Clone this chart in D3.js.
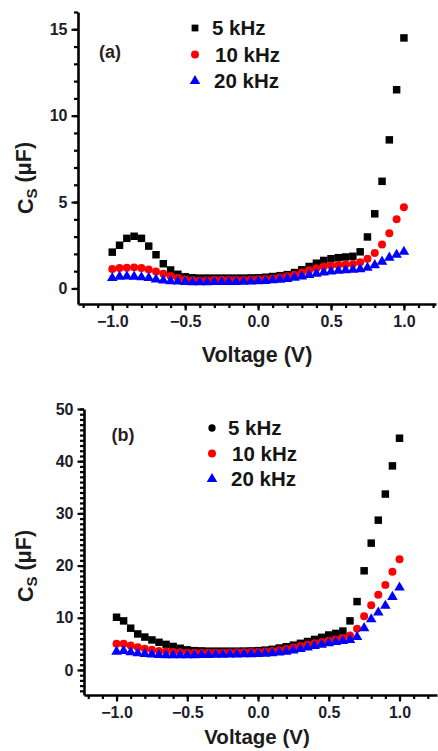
<!DOCTYPE html>
<html><head><meta charset="utf-8">
<script src="https://cdn.jsdelivr.net/npm/d3@7"></script>
<style>
html,body{margin:0;padding:0;background:#fff;}
svg{display:block;font-family:"Liberation Sans",Arial,Helvetica,sans-serif;font-weight:bold;}
</style></head>
<body>
<svg id="chart" width="438" height="751"></svg>
<script>
// ---- data ----
const voltage = [-1.00,-0.95,-0.90,-0.85,-0.80,-0.75,-0.70,-0.65,-0.60,-0.55,-0.50,-0.45,-0.40,-0.35,-0.30,-0.25,-0.20,-0.15,-0.10,-0.05,
  0.00,0.05,0.10,0.15,0.20,0.25,0.30,0.35,0.40,0.45,0.50,0.55,0.60,0.65,0.70,0.75,0.80,0.85,0.90,0.95,1.00];
const seriesNames = ["5 kHz","10 kHz","20 kHz"];
// panel (a)
const a5k  = [2.1,2.5,2.9,3.02,2.9,2.45,1.95,1.43,1.07,0.82,0.68,0.62,0.6,0.6,0.6,0.6,0.6,0.6,0.6,0.61,
  0.62,0.65,0.69,0.74,0.8,0.92,1.08,1.27,1.46,1.62,1.72,1.78,1.82,1.86,2.12,2.98,4.32,6.2,8.6,11.5,14.5];
const a10k = [1.12,1.18,1.2,1.22,1.18,1.1,0.98,0.85,0.72,0.6,0.52,0.48,0.46,0.48,0.5,0.5,0.5,0.5,0.5,0.52,
  0.53,0.55,0.58,0.63,0.7,0.8,0.93,1.05,1.17,1.27,1.33,1.36,1.38,1.42,1.52,1.72,2.05,2.55,3.2,4.0,4.7];
const a20k = [0.6,0.68,0.7,0.68,0.65,0.6,0.52,0.46,0.42,0.4,0.38,0.36,0.36,0.36,0.37,0.37,0.38,0.38,0.39,0.4,
  0.42,0.44,0.47,0.5,0.55,0.62,0.7,0.78,0.86,0.93,0.98,1.02,1.05,1.08,1.12,1.2,1.35,1.55,1.78,1.95,2.12];
// panel (b)
const b5k  = [10.1,9.4,8.0,6.9,6.3,5.75,5.3,4.9,4.5,4.15,3.85,3.7,3.65,3.6,3.6,3.6,3.6,3.6,3.62,3.65,
  3.7,3.8,3.95,4.2,4.45,4.75,5.1,5.45,5.85,6.25,6.7,7.0,7.45,9.4,13.1,19.0,24.3,28.7,33.7,39.1,44.4];
const b10k = [5.0,5.0,4.7,4.35,4.05,3.85,3.65,3.55,3.45,3.38,3.32,3.3,3.3,3.3,3.3,3.32,3.35,3.37,3.4,3.42,
  3.45,3.55,3.65,3.8,4.0,4.3,4.6,4.85,5.1,5.35,5.6,5.85,6.1,6.6,7.9,10.3,12.4,14.4,16.3,18.8,21.2];
const b20k = [3.5,3.65,3.4,3.2,3.07,2.95,2.87,2.82,2.8,2.8,2.8,2.82,2.85,2.87,2.9,2.92,2.95,2.98,3.0,3.03,
  3.07,3.12,3.2,3.35,3.5,3.75,4.0,4.3,4.6,4.85,5.1,5.35,5.55,5.75,6.3,8.0,9.7,11.0,12.3,14.0,15.8];
const xTicks = [-1.0,-0.5,0.0,0.5,1.0];
const yTicksA = [0,5,10,15];
const yTicksB = [0,10,20,30,40,50];
const xTitle = "Voltage (V)";

const colors = ["#000000","#ff0000","#0000ff"];
const symbols = [d3.symbolSquare, d3.symbolCircle, d3.symbolTriangle];
const symSizes = [56, 50, 48];

const svg = d3.select("#chart");

function panel(cfg){
  const g = svg.append("g");
  const x = d3.scaleLinear().domain(cfg.xDomain).range(cfg.xRange);
  const y = d3.scaleLinear().domain(cfg.yDomain).range(cfg.yRange);
  const x0 = cfg.xRange[0], yb = cfg.yRange[0];

  // minor ticks
  const xMinor = d3.range(-12,13).map(d=>d/10).filter(d=>d>=cfg.xDomain[0]-1e-9 && d<=cfg.xDomain[1]+1e-9);
  const yMinor = d3.range(Math.ceil(cfg.yDomain[0]), Math.floor(cfg.yDomain[1])+1);
  g.append("g").attr("transform",`translate(0,${yb})`)
    .call(d3.axisBottom(x).tickValues(xMinor).tickSize(4).tickFormat(""))
    .call(s=>s.select(".domain").remove());
  g.append("g").attr("transform",`translate(${x0},0)`)
    .call(d3.axisLeft(y).tickValues(yMinor).tickSize(4).tickFormat(""))
    .call(s=>s.select(".domain").remove());
  // major
  const xa = g.append("g").attr("transform",`translate(0,${yb})`)
    .call(d3.axisBottom(x).tickValues(xTicks).tickSize(6.5).tickSizeOuter(0).tickPadding(5).tickFormat(d3.format(".1f")));
  const ya = g.append("g").attr("transform",`translate(${x0},0)`)
    .call(d3.axisLeft(y).tickValues(cfg.yTicks).tickSize(6.5).tickSizeOuter(0).tickPadding(4).tickFormat(d3.format("d")));
  [xa,ya].forEach(a=>{
    a.selectAll("text").attr("font-size",16).attr("font-weight","bold").attr("fill","#1c1c2c")
      .attr("font-family","'Liberation Sans',Arial,sans-serif");
  });
  g.selectAll(".tick line").attr("stroke","#000").attr("stroke-width",2.2);
  g.selectAll(".domain").attr("stroke","#000").attr("stroke-width",2.6);

  // data
  cfg.series.forEach((vals,i)=>{
    g.append("g").selectAll("path").data(vals).join("path")
      .attr("transform",(d,j)=>`translate(${x(voltage[j])},${y(d)})`)
      .attr("d",d3.symbol().type(symbols[i]).size(symSizes[i]))
      .attr("fill",colors[i]);
  });

  // legend
  const L = cfg.legend;
  seriesNames.forEach((n,i)=>{
    const ly = L.y + i*L.dy;
    g.append("path").attr("transform",`translate(${L.mx},${ly})`)
      .attr("d",d3.symbol().type(i===0?cfg.legendSym0:symbols[i]).size(i===0?cfg.legendSize0:symSizes[i]))
      .attr("fill",colors[i]);
    g.append("text").attr("x",L.tx[i]).attr("y",ly).attr("dy","0.36em")
      .attr("font-size",20.5).attr("fill","#151515").text(n);
  });
  g.append("text").attr("x",cfg.label.x).attr("y",cfg.label.y).attr("dy","0.36em")
    .attr("text-anchor","middle").attr("font-size",18).attr("fill","#2a2020").text(cfg.label.t);

  // axis titles
  g.append("text").attr("x",257).attr("y",cfg.xTitleY).attr("dy","0.36em").attr("text-anchor","middle")
    .attr("font-size",cfg.xTitleSize).attr("fill","#1c1c1c").text(xTitle);
  const yt = g.append("text").attr("transform",`translate(25,${cfg.yTitleY}) rotate(-90)`)
    .attr("dy","0.36em").attr("text-anchor","middle").attr("font-size",21.5).attr("fill","#1c1c1c");
  yt.append("tspan").text("C");
  yt.append("tspan").attr("font-size",15).attr("dy","0.25em").text("S");
  yt.append("tspan").attr("dy","-0.25em").text(" (\u03BCF)");
}

panel({
  xDomain:[-1.235,1.22], xRange:[78,436],
  yDomain:[-0.9,16], yRange:[304,12], yTicks:yTicksA,
  series:[a5k,a10k,a20k],
  legend:{mx:195, y:28, dy:26.5, tx:[212,215,214]},
  legendSym0:d3.symbolSquare, legendSize0:46,
  label:{x:110,y:52,t:"(a)"},
  xTitleY:354, xTitleSize:21.5, yTitleY:178
});
panel({
  xDomain:[-1.23,1.265], xRange:[84,437],
  yDomain:[-4.8,50], yRange:[695,409], yTicks:yTicksB,
  series:[b5k,b10k,b20k],
  legend:{mx:212, y:428, dy:25.5, tx:[228,232,231]},
  legendSym0:d3.symbolCircle, legendSize0:42,
  label:{x:123,y:435,t:"(b)"},
  xTitleY:737, xTitleSize:20.5, yTitleY:566
});
</script>
</body></html>
